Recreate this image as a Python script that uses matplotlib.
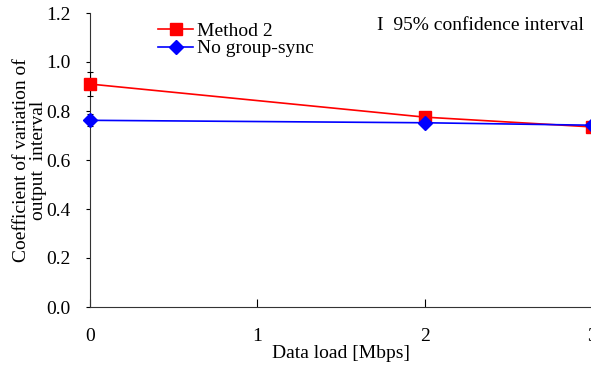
import matplotlib.pyplot as plt

# data
load = [0, 2, 3]
method2 = [0.91, 0.775, 0.735]
method2_err = [0.05, 0.01, 0.01]
nosync = [0.762, 0.752, 0.742]
nosync_err = [0.025, 0.01, 0.01]

plt.rcParams['font.family'] = ['Liberation Serif', 'DejaVu Serif']
plt.rcParams['font.size'] = 14

fig = plt.figure(figsize=(5.91, 3.67), dpi=100)
ax = fig.add_axes([90 / 591, 60 / 367, 502 / 591, 294 / 367])

ax.errorbar(load, method2, yerr=method2_err, color='red', marker='s', markersize=9,
            linewidth=1.2, ecolor='black', elinewidth=0.8, capsize=2.5, capthick=0.8,
            label='Method 2', zorder=3)
ax.errorbar(load, nosync, yerr=nosync_err, color='blue', marker='D', markersize=7,
            linewidth=1.2, ecolor='black', elinewidth=0.8, capsize=2.5, capthick=0.8,
            label='No group-sync', zorder=4)

ax.set_xlim(0, 3)
ax.set_ylim(0, 1.2)
ax.set_xticks([0, 1, 2, 3])
ax.set_yticks([0.0, 0.2, 0.4, 0.6, 0.8, 1.0, 1.2])
ax.set_yticklabels([f'{v:.1f}' for v in ax.get_yticks()])
ax.spines['top'].set_visible(False)
ax.spines['right'].set_visible(False)
ax.spines['left'].set_color('#333333')
ax.spines['bottom'].set_color('#333333')
ax.tick_params(axis='x', direction='in', length=6, pad=15)
ax.tick_params(axis='y', direction='out', length=3, pad=11)
for ln in ax.get_lines():
    ln.set_clip_on(False)

ax.set_xlabel('Data load [Mbps]', labelpad=0)
ax.set_ylabel('Coefficient of variation of\noutput  interval', linespacing=1.0)
ax.yaxis.set_label_coords(-43 / 502, 0.5)

handles, labels = ax.get_legend_handles_labels()
handles = [h[0] for h in handles]
ax.legend(handles, labels, loc='upper left', bbox_to_anchor=(0.12, 0.995), frameon=False,
          handlelength=1.8, handletextpad=0.2, labelspacing=0.0, borderaxespad=0)

ax.text(0.983, 0.985, 'I  95% confidence interval', transform=ax.transAxes,
        ha='right', va='top')

fig.savefig('out.png', dpi=100)
